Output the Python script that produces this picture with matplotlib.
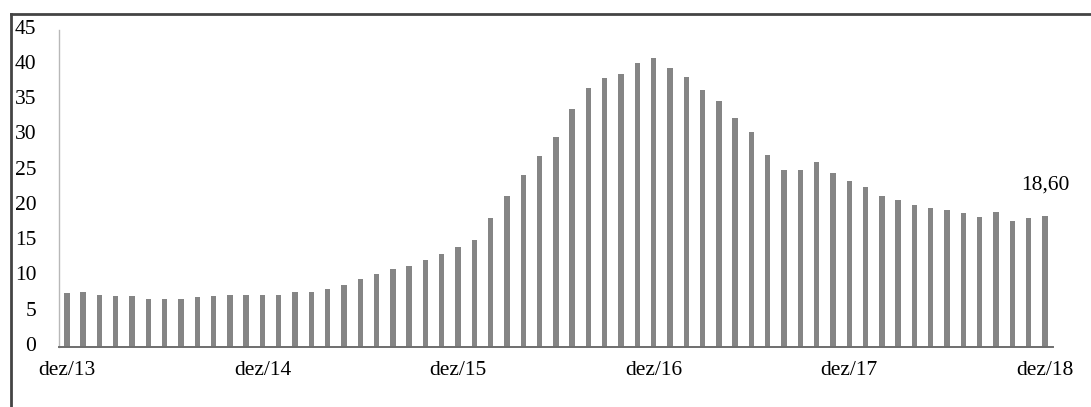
import matplotlib.pyplot as plt
from matplotlib.lines import Line2D
from matplotlib.transforms import ScaledTranslation

# monthly values, dez/13 .. dez/18
values = [7.6, 7.7, 7.3, 7.2, 7.15, 6.8, 6.8, 6.8, 7.0, 7.15,
          7.35, 7.35, 7.35, 7.35, 7.7, 7.8, 8.15, 8.8, 9.6, 10.3,
          11.0, 11.5, 12.3, 13.2, 14.2, 15.1, 18.2, 21.4, 24.3, 27.05,
          29.7, 33.7, 36.7, 38.1, 38.65, 40.2, 41.0, 39.55, 38.3, 36.4,
          34.8, 32.45, 30.4, 27.2, 25.1, 25.1, 26.2, 24.6, 23.5, 22.6,
          21.4, 20.8, 20.1, 19.7, 19.4, 18.95, 18.4, 19.1, 17.9, 18.25,
          18.6]
tick_labels = ['dez/13', 'dez/14', 'dez/15', 'dez/16', 'dez/17', 'dez/18']
y_ticks = [0, 5, 10, 15, 20, 25, 30, 35, 40, 45]
last_label = '18,60'

plt.rcParams['font.family'] = ['Liberation Serif', 'DejaVu Serif']

fig = plt.figure(figsize=(10.91, 4.07), dpi=100)
ax = fig.add_axes([0.0538, 0.148, 0.9114, 0.7794])

x = list(range(len(values)))
ax.bar(x, values, width=0.33, color='#858585', zorder=2)

ax.set_xlim(-0.5, len(values) - 0.5)
ax.set_ylim(0, 45)
ax.set_yticks(y_ticks)
ax.set_yticklabels([str(t) for t in y_ticks], fontsize=15.5)
ax.set_xticks([i * 12 for i in range(len(tick_labels))])
ax.set_xticklabels(tick_labels, fontsize=15.5)
ax.tick_params(axis='y', length=0, pad=16)
ax.tick_params(axis='x', length=0, pad=10)

# y labels sit a little above their gridline in the original
shift = ScaledTranslation(0, 3 / 100, fig.dpi_scale_trans)
for lab in ax.get_yticklabels():
    lab.set_transform(lab.get_transform() + shift)

for s in ['top', 'right']:
    ax.spines[s].set_visible(False)
ax.spines['left'].set_color('#b8b8b8')
ax.spines['left'].set_linewidth(1.0)
ax.spines['bottom'].set_color('#6e6e6e')
ax.spines['bottom'].set_linewidth(1.4)

ax.annotate(last_label, xy=(x[-1], values[-1]), xytext=(0, 22),
            textcoords='offset points', ha='center', va='center',
            fontsize=15.5)

# outer frame (top and left edges visible in the crop)
fx = 11 / 1091
fy = 1 - 14 / 407
fig.add_artist(Line2D([fx, 1.0], [fy, fy], color='#444444', linewidth=2,
                      transform=fig.transFigure))
fig.add_artist(Line2D([fx, fx], [0.0, fy], color='#444444', linewidth=2,
                      transform=fig.transFigure))

fig.savefig('out.png', dpi=100)
